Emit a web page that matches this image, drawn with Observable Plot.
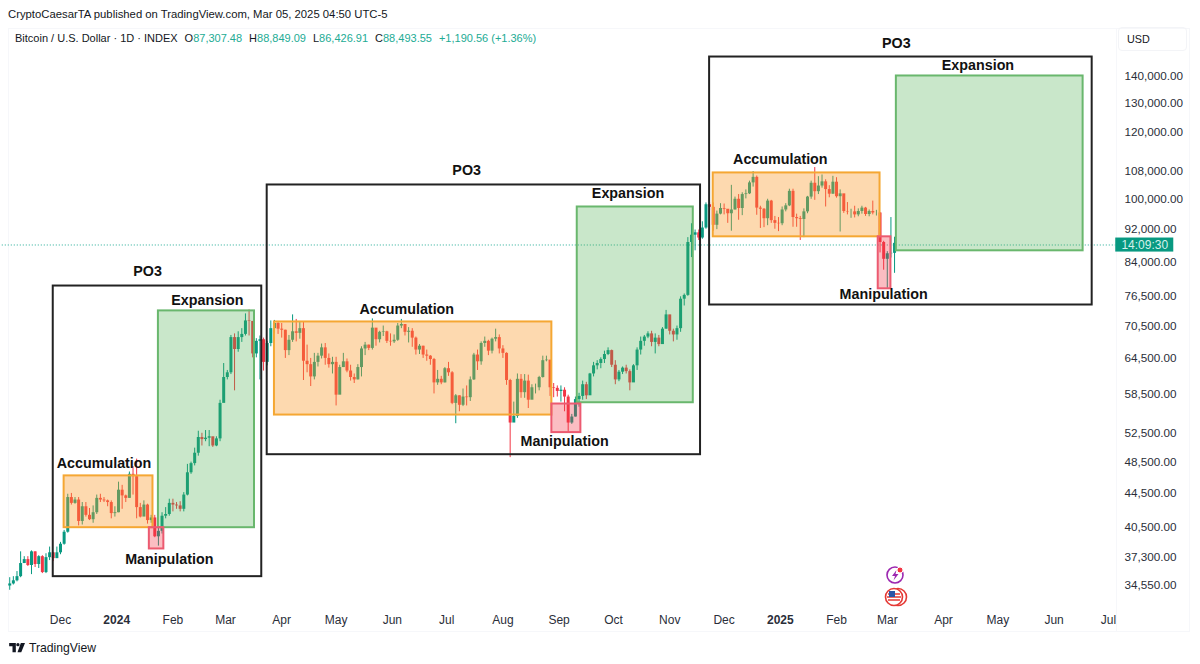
<!DOCTYPE html>
<html><head><meta charset="utf-8">
<script src="https://cdn.jsdelivr.net/npm/d3@7"></script>
<script src="https://cdn.jsdelivr.net/npm/@observablehq/plot@0.6"></script>
<style>
html,body{margin:0;padding:0;background:#fff}
#page{position:relative;width:1200px;height:664px;overflow:hidden;font-family:"Liberation Sans",Inter,sans-serif;color:#131722}
#chart{position:absolute;left:0;top:0}
.ov{position:absolute;white-space:nowrap}
.g{color:#22ab94}
.hd span.k{margin-left:7px}
</style></head><body>
<div id="page">
<div class="ov" style="left:8px;top:28px;width:1182px;height:604px;border:1px solid #f6f7fa;box-sizing:border-box"></div>
<div class="ov" style="left:1116px;top:28px;width:1px;height:604px;background:#f6f7fa"></div>
<div id="chart"></div>
<div class="ov" style="left:8px;top:6px;font-size:11.3px;line-height:16px">CryptoCaesarTA published on TradingView.com, Mar 05, 2025 04:50 UTC-5</div>
<div class="ov hd" style="left:15px;top:30px;font-size:11px;line-height:16px">Bitcoin / U.S. Dollar · 1D · INDEX<span class="k">O</span><span class="g">87,307.48</span><span class="k">H</span><span class="g">88,849.09</span><span class="k">L</span><span class="g">86,426.91</span><span class="k">C</span><span class="g">88,493.55</span><span class="k g">+1,190.56 (+1.36%)</span></div>
<div class="ov" style="left:1118px;top:27px;width:69px;height:24px;border:1px solid #f3f4f7;border-radius:4px;box-sizing:border-box;font-size:10.8px;line-height:22px;padding-left:8px">USD</div>
<svg class="ov" style="left:884px;top:564px" width="24" height="44" viewBox="0 0 24 44">
<circle cx="11" cy="11" r="8" fill="none" stroke="#9c27b0" stroke-width="1.6"/>
<path d="M12.5 6L8 12h3l-1.5 4.5L14.5 10h-3z" fill="#9c27b0"/>
<circle cx="16" cy="6" r="3" fill="#f23645" stroke="#fff"/>
<circle cx="14" cy="33" r="8.5" fill="#fff" stroke="#e53935" stroke-width="1.6"/>
<circle cx="10" cy="33" r="8.5" fill="#fff" stroke="#e53935" stroke-width="1.6"/>
<path d="M4 30h12M3 33h14M4 36h12" stroke="#e53935" stroke-width="1.4"/>
<rect x="5" y="27" width="6" height="6" fill="#2a55a8"/>
</svg>
<svg class="ov" style="left:9px;top:643px" width="17" height="10" viewBox="0 0 20 12">
<path d="M0 0h8v11H4V4H0zM14 0h5l-4.5 11H10z" fill="#131722"/><circle cx="10.5" cy="2" r="2" fill="#131722"/>
</svg>
<div class="ov" style="left:29px;top:640px;font-size:12.2px;line-height:16px">TradingView</div>
</div>
<script>
// Daily series sampled every second day, in thousands of USD, from 2023-11-03.
const startDate = "2023-11-03";
const firstOpen = 34.5;
const closes = [
34.7,35.0,35.4,36.7,37.1,36.5,37.9,36.6,37.4,35.8,
37.3,37.8,37.2,37.8,38.7,40.0,44.0,43.3,43.7,41.2,
42.9,41.9,41.4,42.2,43.9,43.7,43.6,43.4,42.1,42.2,
44.9,44.2,43.9,46.9,46.6,42.8,41.7,43.1,41.3,41.6,
39.5,40.1,41.8,42.0,43.3,43.1,43.0,42.6,44.3,47.1,
48.3,49.7,51.9,51.6,51.8,52.0,50.7,51.7,57.0,61.2,
62.0,68.3,66.1,68.3,68.9,71.5,71.4,65.3,67.6,67.9,
63.8,67.2,70.0,71.0,69.9,69.7,65.9,67.8,69.4,69.1,
70.0,64.0,63.4,61.3,63.8,64.9,66.4,64.5,63.4,63.8,
58.3,62.9,63.9,62.3,61.2,60.8,62.9,66.2,66.9,66.3,
70.1,67.9,69.3,69.4,67.6,67.5,67.8,70.5,70.8,69.3,
69.5,68.2,66.0,66.7,65.1,64.9,64.3,60.3,60.9,60.3,
62.7,62.0,57.0,58.2,56.7,58.0,57.9,60.8,65.1,63.9,
67.2,67.6,65.8,68.0,68.3,66.2,65.4,60.7,54.0,55.0,
60.9,58.7,60.6,57.5,59.5,59.5,61.2,64.1,64.2,59.5,
59.4,58.9,59.1,58.0,54.0,54.9,57.6,58.1,60.0,58.2,
61.8,63.2,63.6,64.3,65.2,65.9,63.3,60.8,62.1,62.8,
62.2,60.3,63.2,66.0,67.6,68.4,69.0,67.4,68.2,67.0,
69.9,72.7,69.5,68.8,70.0,75.9,76.7,88.7,90.5,91.1,
89.8,92.3,98.4,97.7,93.0,95.9,97.4,97.2,96.0,97.0,
99.9,97.4,101.2,101.4,104.5,106.1,97.5,97.2,94.7,99.4,
94.2,93.5,93.4,97.0,98.1,102.1,95.0,94.7,94.5,96.5,
100.5,104.4,102.0,103.6,104.8,102.6,101.3,104.7,100.6,101.4,
96.6,96.5,96.5,95.7,96.6,97.5,95.8,96.6,96.2,96.2,
88.7,84.7,86.0,86.1,88.5];
const highs = [
35.3,35.4,35.9,37.9,37.4,37.4,38.0,37.9,37.5,37.5,
37.7,38.4,37.8,38.4,38.9,40.2,44.4,44.5,44.0,44.0,
43.4,43.4,42.7,43.0,44.3,44.4,44.0,43.7,43.6,42.9,
45.9,45.5,44.3,47.2,47.9,48.9,43.3,43.6,43.2,41.9,
41.9,40.6,42.2,42.8,43.8,43.8,43.4,43.5,44.6,48.2,
48.5,50.4,52.8,52.5,52.9,52.9,51.9,52.0,57.5,63.6,
62.4,68.7,69.0,69.4,70.0,72.9,73.7,71.4,68.1,68.6,
68.2,67.6,71.5,71.6,71.4,71.0,69.7,68.7,72.7,71.8,
71.3,71.2,66.9,64.5,65.4,65.4,67.1,67.2,65.3,64.7,
64.7,63.3,65.4,64.4,63.3,61.8,63.4,66.6,67.4,66.9,
71.9,70.0,69.5,70.5,69.5,69.0,68.8,71.0,71.8,70.0,
70.2,70.0,68.4,67.0,66.7,66.0,65.0,64.5,62.4,61.4,
62.9,63.8,62.2,58.4,58.2,59.3,59.8,61.3,65.4,66.0,
67.5,68.4,67.8,68.2,69.9,68.8,66.8,65.5,60.9,57.2,
61.8,61.7,61.7,61.6,60.0,60.1,61.4,64.9,64.9,63.7,
60.2,59.8,59.8,59.5,58.3,55.3,58.0,58.6,60.6,60.4,
61.9,63.8,64.1,64.6,65.8,66.4,66.0,64.1,62.4,63.0,
63.3,62.5,63.4,66.4,68.4,68.7,69.4,69.5,69.0,68.7,
70.2,73.6,72.6,69.9,70.5,76.4,77.0,89.9,93.4,91.8,
91.8,93.9,98.9,99.0,98.9,96.7,98.7,98.6,96.5,103.8,
100.5,101.2,101.7,102.5,105.0,107.8,106.5,98.0,97.4,99.9,
99.6,95.3,95.0,97.8,98.7,102.7,102.7,95.9,95.3,97.3,
100.7,105.0,109.0,106.3,106.8,105.4,103.7,106.4,106.0,102.5,
101.0,99.0,97.2,98.0,97.3,98.0,97.7,97.0,99.4,96.9,
96.3,89.0,86.5,95.0,90.0];
const lows = [
34.1,34.6,34.9,35.3,36.7,36.4,35.6,36.3,36.2,35.7,
35.7,37.0,36.9,37.2,37.6,38.6,39.9,43.1,43.2,40.7,
40.8,41.7,41.3,41.0,42.0,43.4,43.4,42.9,41.5,41.7,
42.2,42.6,43.4,43.9,44.3,41.5,41.6,41.8,40.9,41.0,
39.4,38.5,39.8,41.5,41.8,42.3,42.6,42.3,42.3,44.2,
46.9,48.0,49.3,50.7,51.3,50.6,50.5,50.6,51.3,58.6,
60.8,61.7,59.0,65.6,67.4,68.6,68.6,64.6,64.6,60.8,
62.3,63.2,66.6,69.0,68.9,68.2,64.5,65.0,67.4,67.5,
68.0,60.7,62.0,59.7,60.8,63.0,64.4,63.3,62.8,61.8,
56.6,58.5,62.9,62.0,60.6,60.2,60.8,61.3,65.0,65.9,
66.0,66.7,67.3,68.5,67.2,66.7,67.2,67.6,70.0,68.6,
67.3,66.5,65.1,65.2,64.5,64.0,63.3,58.5,59.9,60.0,
60.3,61.4,56.8,53.9,55.7,56.5,56.6,57.3,60.7,62.4,
63.3,66.5,65.0,65.3,67.5,65.3,64.5,59.9,49.1,54.4,
54.7,57.8,57.8,56.2,57.8,58.5,59.0,61.1,63.9,58.1,
57.9,58.0,57.2,55.7,52.6,53.8,54.9,56.4,57.5,57.6,
59.2,61.3,62.5,62.7,63.6,65.0,62.9,60.0,60.5,61.7,
61.8,59.0,60.4,62.4,65.1,66.7,68.1,66.6,65.3,66.6,
67.1,69.9,68.8,67.5,67.8,69.3,74.5,76.5,85.1,86.7,
89.2,89.5,92.0,96.8,91.5,91.9,95.7,95.7,93.5,91.5,
97.0,94.3,95.5,100.0,101.2,103.3,95.6,92.2,92.4,92.9,
93.5,92.0,91.4,92.9,96.5,97.9,92.5,92.5,89.2,89.9,
96.0,99.9,99.6,101.2,103.0,97.8,100.3,101.3,100.2,91.3,
96.1,95.7,94.8,94.9,95.2,95.9,95.3,95.2,95.7,95.4,
86.2,82.2,78.2,85.0,81.5];

const priceTicks = [140000,130000,120000,108000,100000,92000,84000,76500,70500,64500,58500,52500,48500,44500,40500,37300,34550];
const monthTicks = ["2023-12-01","2024-02-01","2024-03-01","2024-04-01","2024-05-01","2024-06-01","2024-07-01","2024-08-01","2024-09-01","2024-10-01","2024-11-01","2024-12-01","2025-02-01","2025-03-01","2025-04-01","2025-05-01","2025-06-01","2025-07-01"];
const yearTicks = ["2024-01-01","2025-01-01"];

// Annotation boxes: start, end, top price, bottom price (thousands).
const frameBoxes = [["2023-11-27","2024-03-21",78.7,35.4],["2024-03-24","2024-11-18",103.9,49.5],["2024-11-23","2025-06-22",147.7,74.7]];
const accumulationBoxes = [["2023-12-03","2024-01-21",46.7,40.5],["2024-03-28","2024-08-28",71.3,55.2],["2024-11-25","2025-02-25",107.4,90.1]];
const manipulationBoxes = [["2024-01-19","2024-01-27",40.5,38.2],["2024-08-28","2024-09-13",56.9,52.6],["2025-02-24","2025-03-03",90.1,78.1]];
const expansionBoxes = [["2024-01-24","2024-03-17",73.5,40.5],["2024-09-11","2024-11-14",97.8,57.1],["2025-03-06","2025-06-17",140.2,86.7]];
// Labels: text, date, price (thousands).
const labels = [
["PO3","2024-01-18",82.0],["Expansion","2024-02-20",75.6],["Accumulation","2023-12-25",48.3],["Manipulation","2024-01-30",37.1],
["PO3","2024-07-12",108.1],["Accumulation","2024-06-09",73.8],["Expansion","2024-10-09",101.6],["Manipulation","2024-09-04",51.3],
["PO3","2025-03-06",153.5],["Accumulation","2025-01-01",111.4],["Expansion","2025-04-20",144.5],["Manipulation","2025-02-27",76.9]];
const lastPriceLine = 88100;
const countdown = "14:09:30";
const countdownBox = ["2025-07-05","2025-08-06",89800,86400,"2025-07-21",88100];

const candles = closes.map((c,i)=>({
  date:d3.utcDay.offset(new Date(startDate),i*2),
  open:(i?closes[i-1]:firstOpen)*1000, close:c*1000, high:highs[i]*1000, low:lows[i]*1000,
  dir:c>=(i?closes[i-1]:firstOpen)?"up":"down"
}));
const toBox = b=>({x1:new Date(b[0]),x2:new Date(b[1]),y1:b[2]*1000,y2:b[3]*1000});
const boxMark = (rows,o)=>Plot.rect(rows.map(toBox),{x1:"x1",x2:"x2",y1:"y1",y2:"y2",...o});

const chart = Plot.plot({
  width:1200,height:664,
  marginTop:0,marginLeft:8,marginRight:78,marginBottom:52,
  style:{background:"transparent",fontFamily:"'Liberation Sans', Inter, sans-serif",overflow:"visible"},
  x:{type:"utc",domain:[new Date("2023-12-01"),new Date("2025-07-01")],range:[60,1108]},
  y:{type:"log",domain:[34550,140000],range:[585,76]},
  color:{domain:["up","down"],range:["#089981","#f23645"]},
  marks:[
    Plot.ruleY([lastPriceLine],{x1:new Date("2023-10-15"),x2:new Date("2025-07-05"),stroke:"#22ab94",strokeWidth:1,strokeDasharray:"1,2"}),
    Plot.ruleX(candles,{x:"date",y1:"low",y2:"high",stroke:"dir",strokeWidth:1}),
    Plot.ruleX(candles,{x:"date",y1:"open",y2:"close",stroke:"dir",strokeWidth:3}),
    boxMark(accumulationBoxes,{fill:"#fb9b2d",fillOpacity:0.38,stroke:"#f5a733",strokeWidth:2}),
    boxMark(expansionBoxes,{fill:"#4caf50",fillOpacity:0.3,stroke:"#69b76d",strokeWidth:2}),
    boxMark(manipulationBoxes,{fill:"#f23645",fillOpacity:0.33,stroke:"#ec5a70",strokeWidth:2}),
    boxMark(frameBoxes,{fill:"none",stroke:"#222",strokeWidth:2}),
    Plot.text(labels,{x:d=>new Date(d[1]),y:d=>d[2]*1000,text:d=>d[0],fontSize:14.3,fontWeight:700,fill:"#111"}),
    Plot.axisY(priceTicks,{anchor:"right",tickSize:0,tickPadding:2,textAnchor:"start",label:null,fontSize:11.7,fill:"#2a2e39",tickFormat:d3.format(",.2f")}),
    Plot.axisX(monthTicks.map(d=>new Date(d)),{anchor:"bottom",tickSize:0,tickPadding:3,label:null,fontSize:12,fill:"#2a2e39",tickFormat:d3.utcFormat("%b")}),
    Plot.axisX(yearTicks.map(d=>new Date(d)),{anchor:"bottom",tickSize:0,tickPadding:3,label:null,fontSize:12,fontWeight:"bold",fill:"#2a2e39",tickFormat:d3.utcFormat("%Y")}),
    Plot.rect([countdownBox],{x1:d=>new Date(d[0]),x2:d=>new Date(d[1]),y1:d=>d[2],y2:d=>d[3],fill:"#089981"}),
    Plot.text([countdownBox],{x:d=>new Date(d[4]),y:d=>d[5],text:()=>countdown,fill:"#d5f0ea",fontSize:12})
  ]
});
document.getElementById("chart").appendChild(chart);
</script>
</body></html>
